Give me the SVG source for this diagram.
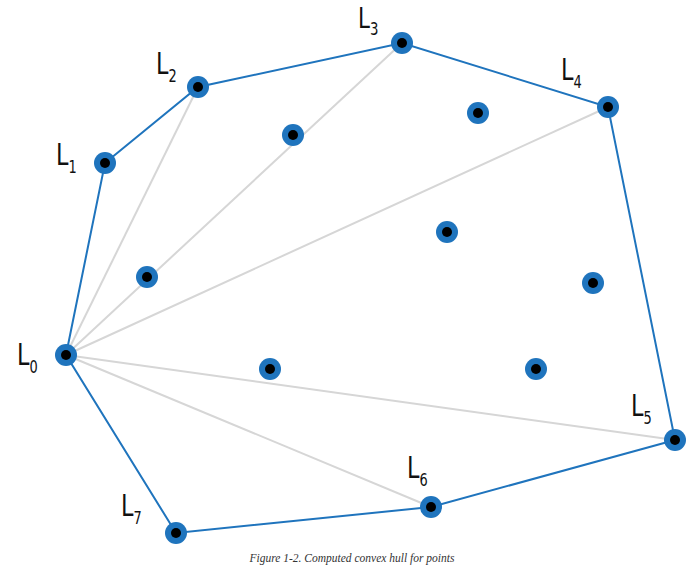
<svg xmlns="http://www.w3.org/2000/svg" width="700" height="575" viewBox="0 0 700 575">
<style>
.hull{stroke:#1f74bd;stroke-width:2;fill:none}
.ray{stroke:#d6d6d6;stroke-width:2;fill:none}
.pt{fill:#1f74bd}
.core{fill:#000}
.lbl{font-family:"DejaVu Sans Condensed","Liberation Sans",sans-serif;font-size:31px;fill:#111}
.sub{font-size:18px}
.cap{font-family:"Liberation Serif",serif;font-style:italic;font-size:11.5px;fill:#333}
</style>
<defs>
<g id="dot"><circle r="11" class="pt"/><circle r="5" class="core"/></g>
</defs>
<rect width="700" height="575" fill="#fff"/>
<g id="connectors">
<line class="ray" x1="66" y1="355" x2="198" y2="87"/>
<line class="ray" x1="66" y1="355" x2="402" y2="43"/>
<line class="ray" x1="66" y1="355" x2="608" y2="107"/>
<line class="ray" x1="66" y1="355" x2="675" y2="440"/>
<line class="ray" x1="66" y1="355" x2="431" y2="507"/>
<polygon class="hull" points="66,355 105,163 198,87 402,43 608,107 675,440 431,507 176,533"/>
</g>
<g id="L0"><use href="#dot" x="66" y="355"/><text class="lbl" transform="translate(17,365) scale(0.8,1)">L<tspan class="sub" dy="8">0</tspan></text></g>
<g id="L1"><use href="#dot" x="105" y="163"/><text class="lbl" transform="translate(56,165) scale(0.8,1)">L<tspan class="sub" dy="8">1</tspan></text></g>
<g id="L2"><use href="#dot" x="198" y="87"/><text class="lbl" transform="translate(156,74) scale(0.8,1)">L<tspan class="sub" dy="8">2</tspan></text></g>
<g id="L3"><use href="#dot" x="402" y="43"/><text class="lbl" style="font-size:29px" transform="translate(358,28) scale(0.82,1)">L<tspan class="sub" dy="7">3</tspan></text></g>
<g id="L4"><use href="#dot" x="608" y="107"/><text class="lbl" transform="translate(561,80) scale(0.8,1)">L<tspan class="sub" dy="8">4</tspan></text></g>
<g id="L5"><use href="#dot" x="675" y="440"/><text class="lbl" transform="translate(631,416) scale(0.8,1)">L<tspan class="sub" dy="8">5</tspan></text></g>
<g id="L6"><use href="#dot" x="431" y="507"/><text class="lbl" transform="translate(407,478) scale(0.8,1)">L<tspan class="sub" dy="8">6</tspan></text></g>
<g id="L7"><use href="#dot" x="176" y="533"/><text class="lbl" transform="translate(121,516) scale(0.8,1)">L<tspan class="sub" dy="8">7</tspan></text></g>
<g id="p1"><use href="#dot" x="293" y="135"/></g>
<g id="p2"><use href="#dot" x="478" y="113"/></g>
<g id="p3"><use href="#dot" x="447" y="232"/></g>
<g id="p4"><use href="#dot" x="147" y="277"/></g>
<g id="p5"><use href="#dot" x="593" y="283"/></g>
<g id="p6"><use href="#dot" x="270" y="369"/></g>
<g id="p7"><use href="#dot" x="536" y="369"/></g>
<text class="cap" x="352" y="562" text-anchor="middle">Figure 1-2. Computed convex hull for points</text>
</svg>
